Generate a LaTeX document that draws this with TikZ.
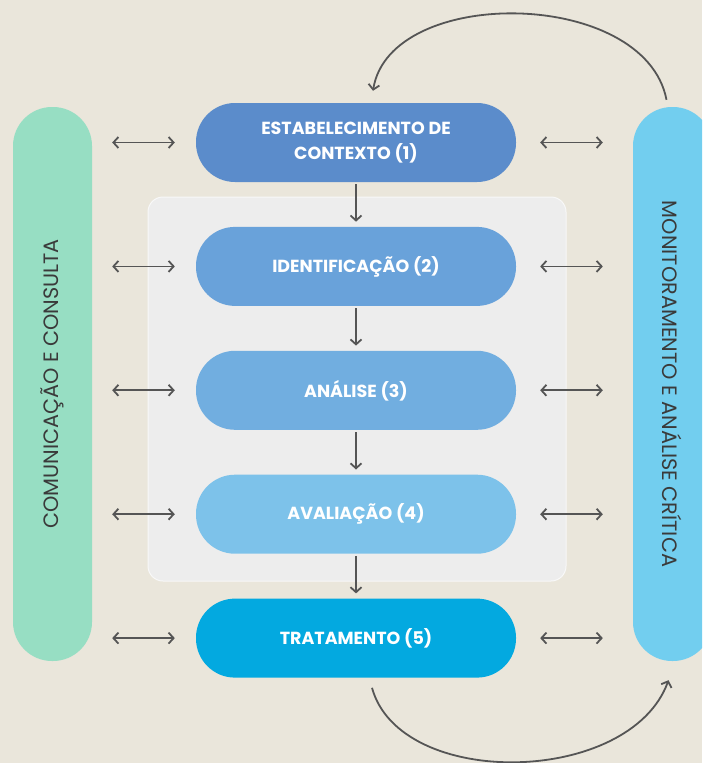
\documentclass[tikz,border=0pt]{standalone}
\usepackage{fontspec}
\setmainfont{Poppins}
\usetikzlibrary{arrows.meta,positioning,calc}

\definecolor{bgbeige}{HTML}{EAE6DB}
\definecolor{mintbar}{HTML}{97DEC3}
\definecolor{skybar}{HTML}{72CEEF}
\definecolor{stepA}{HTML}{5B8CCB}
\definecolor{stepB}{HTML}{69A2DA}
\definecolor{stepC}{HTML}{71AEE0}
\definecolor{stepD}{HTML}{7DC2EA}
\definecolor{stepE}{HTML}{03A9E0}
\definecolor{panelgray}{HTML}{EDEDED}
\definecolor{arrowgray}{HTML}{555555}
\definecolor{sidetext}{HTML}{3A3A3A}

\tikzset{
  stage/.style={rectangle, rounded corners=39pt, minimum width=320pt, minimum height=79pt,
    text=white, align=center, font=\fontsize{17.5}{25.5}\selectfont\bfseries},
  sidebar/.style={rectangle, rounded corners=39pt, minimum width=79pt, minimum height=554pt,
    text=sidetext, font=\fontsize{20.8}{24}\selectfont},
  flow/.style={-{Straight Barb[length=5pt,width=11pt]}, line width=1.8pt, draw=arrowgray},
  twoway/.style={{Straight Barb[length=5pt,width=11pt]}-{Straight Barb[length=5pt,width=11pt]},
    line width=1.8pt, draw=arrowgray},
}

\begin{document}
\begin{tikzpicture}[x=1pt,y=-1pt]
  \fill[bgbeige] (0,0) rectangle (702,763);
  \useasboundingbox (0,0) rectangle (702,763);
  \clip (0,0) rectangle (702,763);

  % inner panel behind steps 2-4
  \node[rectangle, rounded corners=15pt, fill=panelgray, draw=white!60!panelgray, line width=1pt,
    minimum width=418pt, minimum height=384pt] (panel) at (357,389) {};

  % the five steps
  \node[stage, fill=stepA] (ctx) at (356,142.5) {ESTABELECIMENTO DE\\CONTEXTO (1)};
  \node[stage, fill=stepB, below=44.5pt of ctx] (ident) {IDENTIFICAÇÃO (2)};
  \node[stage, fill=stepC, below=44.5pt of ident] (anal) {ANÁLISE (3)};
  \node[stage, fill=stepD, below=44.5pt of anal] (aval) {AVALIAÇÃO (4)};
  \node[stage, fill=stepE, below=44.5pt of aval] (trat) {TRATAMENTO (5)};

  % side bars
  \node[sidebar, fill=mintbar] (comm) at (52.5,384) {\rotatebox{90}{COMUNICAÇÃO E CONSULTA}};
  \node[sidebar, fill=skybar] (moni) at (672.5,384) {\rotatebox{-90}{MONITORAMENTO E ANÁLISE CRÍTICA}};

  % flow down
  \draw[flow, shorten <=2pt, shorten >=5pt] (ctx) -- (ident);
  \draw[flow, shorten <=2pt, shorten >=5pt] (ident) -- (anal);
  \draw[flow, shorten <=2pt, shorten >=5pt] (anal) -- (aval);
  \draw[flow, shorten <=2pt, shorten >=5pt] (aval) -- (trat);

  % two-way links to the side bars
  \foreach \s in {ctx,ident,anal,aval,trat} {
    \draw[twoway, shorten <=20pt, shorten >=21pt] (\s.west -| comm.east) -- (\s.west);
    \draw[twoway, shorten <=24pt, shorten >=30pt] (\s.east) -- (\s.east -| moni.west);
  }

  % feedback arcs
  \coordinate (topfrom) at ([xshift=-6pt,yshift=7pt]moni.north);
  \coordinate (topto) at ([xshift=17pt,yshift=12pt]ctx.north);
  \draw[flow] (topfrom) .. controls (645,-12) and (390,-15) .. (topto);
  \coordinate (botfrom) at ([xshift=16pt,yshift=-10pt]trat.south);
  \coordinate (botto) at ([xshift=-4pt,yshift=-19pt]moni.south);
  \draw[flow] (botfrom) .. controls (400,790) and (630,786) .. (botto);
\end{tikzpicture}
\end{document}
